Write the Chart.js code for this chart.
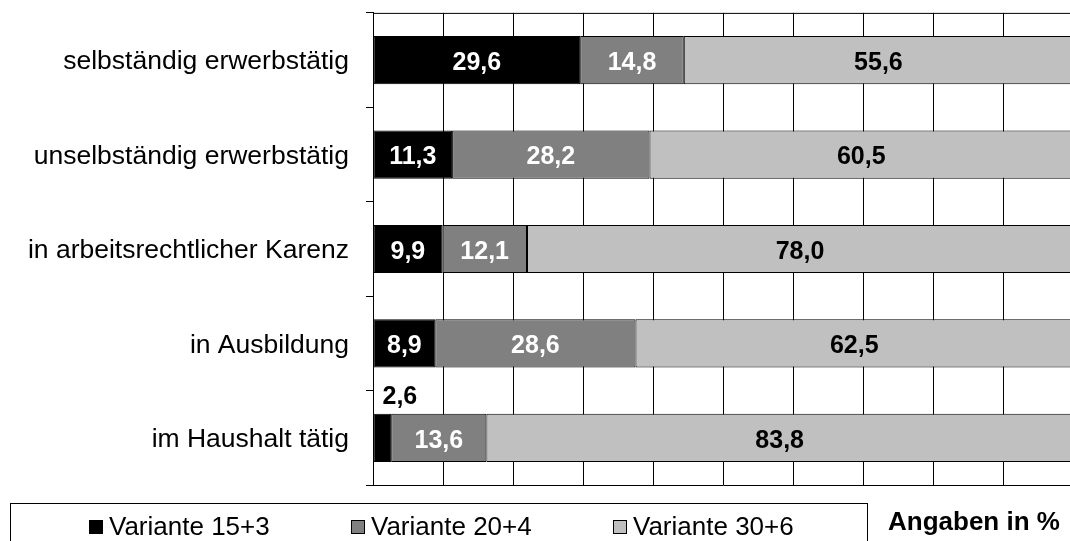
<!DOCTYPE html>
<html>
<head>
<meta charset="utf-8">
<script src="https://cdn.jsdelivr.net/npm/chart.js"></script>
<style>
  html, body { margin: 0; padding: 0; background: #fff; overflow: hidden; }
  body { width: 1070px; height: 541px; position: relative; font-family: "Liberation Sans", Arial, sans-serif; }
  #chart { position: absolute; left: 0; top: -20px; }
  #legend { position: absolute; left: 10px; top: 503px; width: 856px; height: 60px; border: 1px solid #000; }
  .item { position: absolute; top: 9px; font-size: 26px; line-height: 26px; white-space: nowrap; }
  .box { display: inline-block; width: 12px; height: 12px; border: 1px solid #000; margin-right: 6px; vertical-align: 1px; }
  #unit { position: absolute; left: 888px; top: 508px; font-size: 26px; line-height: 26px; font-weight: bold; }
</style>
</head>
<body>
<canvas id="chart" width="1100" height="538"></canvas>
<div id="legend"></div>
<div id="unit">Angaben in %</div>

<script>
// data
const categories = [
  'selbständig erwerbstätig',
  'unselbständig erwerbstätig',
  'in arbeitsrechtlicher Karenz',
  'in Ausbildung',
  'im Haushalt tätig'
];
const variante15 = [29.6, 11.3, 9.9, 8.9, 2.6];
const variante20 = [14.8, 28.2, 12.1, 28.6, 13.6];
const variante30 = [55.6, 60.5, 78.0, 62.5, 83.8];
const seriesNames = ['Variante 15+3', 'Variante 20+4', 'Variante 30+6'];
const xTicks = [0, 10, 20, 30, 40, 50, 60, 70, 80, 90, 100];

const fills = ['#000000', '#808080', '#c0c0c0'];
const labelColors = ['#ffffff', '#ffffff', '#000000'];

const fmt = v => v.toFixed(1).replace('.', ',');

// value labels inside the bars (small ones go above the bar)
const valueLabels = {
  id: 'valueLabels',
  afterDatasetsDraw(chart) {
    const ctx = chart.ctx;
    ctx.save();
    ctx.font = 'bold 25px "Liberation Sans", Arial, sans-serif';
    ctx.textBaseline = 'middle';
    chart.data.datasets.forEach((ds, i) => {
      chart.getDatasetMeta(i).data.forEach((bar, j) => {
        const v = ds.data[j];
        const w = Math.abs(bar.x - bar.base);
        const txt = fmt(v);
        if (ctx.measureText(txt).width + 8 > w) {
          ctx.fillStyle = '#000';
          ctx.textAlign = 'left';
          ctx.fillText(txt, bar.base + 9, bar.y - bar.height / 2 - 17);
        } else {
          ctx.fillStyle = labelColors[i];
          ctx.textAlign = 'center';
          ctx.fillText(txt, (bar.x + bar.base) / 2, bar.y + 3);
        }
      });
    });
    ctx.restore();
  }
};

// top frame line
const topLine = {
  id: 'topLine',
  afterDraw(chart) {
    const a = chart.chartArea;
    const ctx = chart.ctx;
    ctx.save();
    ctx.strokeStyle = '#000';
    ctx.lineWidth = 1;
    ctx.beginPath();
    ctx.moveTo(a.left, a.top + 0.5);
    ctx.lineTo(a.right, a.top + 0.5);
    ctx.stroke();
    ctx.restore();
  }
};

const allSeries = [variante15, variante20, variante30];

new Chart(document.getElementById('chart'), {
  type: 'bar',
  data: {
    labels: categories,
    datasets: allSeries.map((d, i) => ({
      label: seriesNames[i],
      data: d,
      backgroundColor: fills[i],
      borderColor: '#000',
      borderWidth: 1,
      borderSkipped: false,
      barPercentage: 0.51,
      categoryPercentage: 1
    }))
  },
  options: {
    indexAxis: 'y',
    responsive: false,
    animation: false,
    devicePixelRatio: 1,
    layout: { padding: { top: 13, right: 27, bottom: 15, left: 0 } },
    plugins: { legend: { display: false }, tooltip: { enabled: false } },
    scales: {
      x: {
        stacked: true,
        min: 0,
        max: 100,
        afterBuildTicks: s => { s.ticks = xTicks.map(v => ({ value: v })); },
        ticks: { display: false },
        grid: { color: '#000', lineWidth: 1, drawTicks: false },
        border: { color: '#000', width: 1 }
      },
      y: {
        stacked: true,
        afterFit: s => { s.width = 373; },
        ticks: {
          color: '#000',
          padding: 17,
          labelOffset: 2,
          font: { family: '"Liberation Sans", Arial, sans-serif', size: 26.5 }
        },
        grid: { color: '#000', drawOnChartArea: false, drawTicks: true, tickLength: 7 },
        border: { color: '#000', width: 1 }
      }
    }
  },
  plugins: [valueLabels, topLine]
});

// legend box
const legend = document.getElementById('legend');
seriesNames.forEach((name, i) => {
  const it = document.createElement('div');
  it.className = 'item';
  it.style.left = (78 + i * 262) + 'px';
  it.innerHTML = '<span class="box" style="background:' + fills[i] + '"></span>' + name;
  legend.appendChild(it);
});
</script>
</body>
</html>
